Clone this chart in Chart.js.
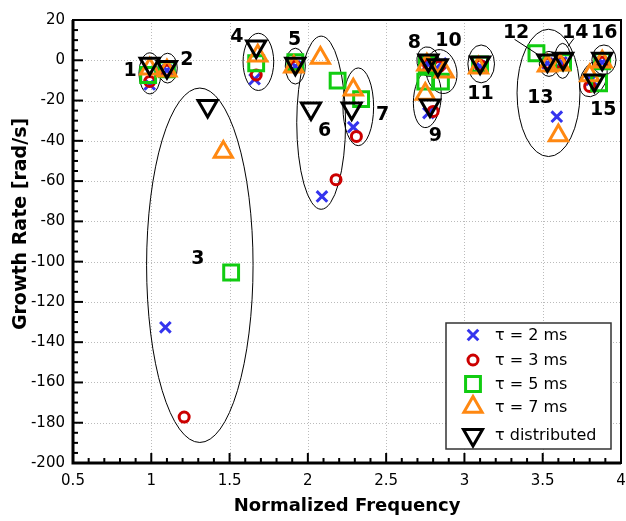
<!DOCTYPE html>
<html>
<head>
<meta charset="utf-8">
<script src="https://cdn.jsdelivr.net/npm/chart.js@4.4.1/dist/chart.umd.min.js"></script>
<style>
  html, body { margin: 0; padding: 0; background: #fff; }
  #wrap { width: 626px; height: 521px; }
</style>
</head>
<body>
<div id="wrap"><canvas id="growthChart" width="626" height="521"></canvas></div>
<script>
// ============================
// Data
// ============================
const xTicks = [0.5, 1, 1.5, 2, 2.5, 3, 3.5, 4];
const yTicks = [20, 0, -20, -40, -60, -80, -100, -120, -140, -160, -180, -200];

// tau = 2 ms (blue x)
const tau2X = [0.99, 1.10, 1.09, 1.66, 1.92, 2.09, 2.29, 2.77, 2.77, 2.85, 3.10, 3.53, 3.59, 3.62, 3.81, 3.88];
const tau2Y = [-12, -5, -132.6, -9.4, -3, -67.6, -33.2, -2, -26.2, -1.5, -3, -1.5, -28, -1, -9.7, -1];
// tau = 3 ms (red o)
const tau3X = [0.99, 1.10, 1.21, 1.67, 1.92, 2.18, 2.31, 2.77, 2.80, 2.84, 3.10, 3.53, 3.61, 3.80, 3.88];
const tau3Y = [-10.5, -5, -177.2, -7.3, -3, -59.3, -37.8, -2, -25.4, -3, -2.5, -1.5, -1, -13, -1];
// tau = 5 ms (green square)
const tau5X = [0.98, 1.10, 1.51, 1.67, 1.92, 2.19, 2.34, 2.76, 2.75, 2.85, 3.10, 3.46, 3.63, 3.86, 3.88];
const tau5Y = [-7.3, -4.5, -105.4, -1.5, -1, -10.1, -19.3, -2, -10.6, -10.6, -2, 3.5, -1, -11.4, -0.5];
// tau = 7 ms (orange triangle)
const tau7X = [0.99, 1.10, 1.46, 1.68, 1.91, 2.08, 2.29, 2.76, 2.75, 2.87, 3.09, 3.53, 3.60, 3.61, 3.80, 3.88];
const tau7Y = [-4.2, -5.2, -45.6, 2.3, -3.2, 1.1, -14.7, -2.2, -16.7, -5.7, -3.7, -2.7, -37.4, -2.2, -7.6, -0.7];
// tau distributed (black inverted triangle)
const distX = [0.99, 1.10, 1.36, 1.67, 1.92, 2.02, 2.28, 2.77, 2.78, 2.83, 3.10, 3.53, 3.63, 3.83, 3.88];
const distY = [-1.7, -3.4, -22.7, 6.9, -1.7, -24, -24, -0.1, -22.4, -2.5, -1.1, -0.1, 0.7, -10, 0.7];

// mode groups: ellipse (centre, half-axes in data units, tilt) and label position
const modeIds = ["1", "2", "3", "4", "5", "6", "7", "8", "9", "10", "11", "12", "13", "14", "15", "16"];
const ellCx  = [0.991, 1.104, 1.310, 1.684, 1.920, 2.085, 2.322, 2.769, 2.763, 2.853, 3.107, 3.540, 3.537, 3.627, 3.824, 3.891];
const ellCy  = [-6.5, -3.9, -101.8, -0.8, -2.9, -31, -23.1, -0.7, -19.1, -5.6, -1.8, -1.8, -16.2, -0.3, -9.2, 0.2];
const ellRx  = [0.070, 0.062, 0.340, 0.098, 0.064, 0.156, 0.098, 0.072, 0.088, 0.098, 0.085, 0.062, 0.201, 0.053, 0.080, 0.077];
const ellRy  = [10.2, 7.4, 88, 14.2, 8.9, 43, 19.3, 7.4, 14.4, 11, 9.4, 6.2, 31.6, 8.7, 9.4, 7.4];
const ellRot = [0, 0, 0, 0, 0, 0, 0, -10, 5, -10, 0, 0, 0, 0, 25, 0];
const labelX = [0.864, 1.227, 1.297, 1.546, 1.916, 2.107, 2.477, 2.681, 2.815, 2.898, 3.102, 3.330, 3.485, 3.708, 3.886, 3.893];
const labelY = [-5.6, 0.2, -98.9, 11.6, 10.1, -35, -27.1, 8.6, -37.5, 9.6, -16.7, 13.6, -19.0, 13.6, -24.6, 13.6];

const legendNames = ["\u03c4 = 2 ms", "\u03c4 = 3 ms", "\u03c4 = 5 ms", "\u03c4 = 7 ms", "\u03c4 distributed"];

const FONT = "'DejaVu Sans', 'Liberation Sans', sans-serif";
const toPts = (xs, ys) => xs.map((x, i) => ({ x, y: ys[i] }));

const styles = [
    { color: "#3434ee", pointStyle: "crossRot", radius: 7.5, rotation: 0, borderWidth: 3 },
    { color: "#cc0000", pointStyle: "circle", radius: 5, rotation: 0, borderWidth: 3 },
    { color: "#11cc11", pointStyle: "rect", radius: 10.5, rotation: 0, borderWidth: 3 },
    { color: "#ff8811", pointStyle: "triangle", radius: 10.5, rotation: 0, borderWidth: 3 },
    { color: "#000000", pointStyle: "triangle", radius: 11, rotation: 180, borderWidth: 3 }
];
const series = [toPts(tau2X, tau2Y), toPts(tau3X, tau3Y), toPts(tau5X, tau5Y), toPts(tau7X, tau7Y), toPts(distX, distY)];

// simple marker painter for the legend box
function drawMarker(ctx, st, x, y) {
    const r = st.radius;
    ctx.save();
    ctx.strokeStyle = st.color; ctx.lineWidth = st.borderWidth; ctx.lineJoin = "miter";
    ctx.beginPath();
    if (st.pointStyle === "crossRot") {
        const o = r * Math.SQRT1_2;
        ctx.moveTo(x - o, y - o); ctx.lineTo(x + o, y + o);
        ctx.moveTo(x + o, y - o); ctx.lineTo(x - o, y + o);
    } else if (st.pointStyle === "circle") {
        ctx.arc(x, y, r, 0, Math.PI * 2);
    } else if (st.pointStyle === "rect") {
        const s = r * Math.SQRT1_2;
        ctx.rect(x - s, y - s, 2 * s, 2 * s);
    } else {
        let a = st.rotation * Math.PI / 180;
        for (let k = 0; k < 3; k++) {
            const px = x + Math.sin(a) * r, py = y - Math.cos(a) * r;
            k === 0 ? ctx.moveTo(px, py) : ctx.lineTo(px, py);
            a += Math.PI * 2 / 3;
        }
        ctx.closePath();
    }
    ctx.stroke();
    ctx.restore();
}

const overlay = {
    id: "overlay",
    beforeDatasetsDraw(chart) {
        const { ctx, chartArea: a, scales: { x, y } } = chart;
        ctx.save();
        // dotted grid
        ctx.strokeStyle = "#bbbbbb"; ctx.lineWidth = 1; ctx.setLineDash([1, 2]);
        xTicks.forEach(v => { const px = Math.round(x.getPixelForValue(v)) + 0.5; ctx.beginPath(); ctx.moveTo(px, a.top); ctx.lineTo(px, a.bottom); ctx.stroke(); });
        yTicks.forEach(v => { const py = Math.round(y.getPixelForValue(v)) + 0.5; ctx.beginPath(); ctx.moveTo(a.left, py); ctx.lineTo(a.right, py); ctx.stroke(); });
        ctx.setLineDash([]);
        // group ellipses
        ctx.strokeStyle = "#000"; ctx.lineWidth = 1;
        modeIds.forEach((id, i) => {
            const cx = x.getPixelForValue(ellCx[i]), cy = y.getPixelForValue(ellCy[i]);
            const rx = Math.abs(x.getPixelForValue(ellCx[i] + ellRx[i]) - cx);
            const ry = Math.abs(y.getPixelForValue(ellCy[i] + ellRy[i]) - cy);
            ctx.beginPath();
            ctx.ellipse(cx, cy, rx, ry, ellRot[i] * Math.PI / 180, 0, Math.PI * 2);
            ctx.stroke();
        });
        ctx.restore();
    },
    afterDatasetsDraw(chart) {
        const { ctx, chartArea: a, scales: { x, y } } = chart;
        ctx.save();
        // leader lines for 12 and 14
        ctx.strokeStyle = "#000"; ctx.lineWidth = 1;
        ctx.beginPath();
        ctx.moveTo(x.getPixelForValue(3.32), y.getPixelForValue(10.4)); ctx.lineTo(x.getPixelForValue(3.49), y.getPixelForValue(1.8));
        ctx.moveTo(x.getPixelForValue(3.70), y.getPixelForValue(10.9)); ctx.lineTo(x.getPixelForValue(3.66), y.getPixelForValue(6.8));
        ctx.stroke();
        // mode numbers
        ctx.fillStyle = "#000"; ctx.font = `bold 19px ${FONT}`;
        ctx.textAlign = "center"; ctx.textBaseline = "middle";
        modeIds.forEach((id, i) => ctx.fillText(id, x.getPixelForValue(labelX[i]), y.getPixelForValue(labelY[i])));

        // frame
        ctx.lineWidth = 2;
        ctx.strokeRect(a.left, a.top, a.right - a.left, a.bottom - a.top);
        ctx.lineWidth = 3;
        ctx.beginPath();
        ctx.moveTo(a.left, a.top); ctx.lineTo(a.left, a.bottom); ctx.lineTo(a.right, a.bottom);
        ctx.stroke();

        // inward ticks: major and minor
        ctx.lineWidth = 2;
        for (let v = 0.5; v <= 4.0001; v += 0.1) {
            const major = Math.abs(v * 2 - Math.round(v * 2)) < 1e-6;
            const px = x.getPixelForValue(v);
            ctx.beginPath(); ctx.moveTo(px, a.bottom); ctx.lineTo(px, a.bottom - (major ? 10 : 5)); ctx.stroke();
        }
        for (let v = -200; v <= 20; v += 5) {
            const major = v % 20 === 0;
            const py = y.getPixelForValue(v);
            ctx.beginPath(); ctx.moveTo(a.left, py); ctx.lineTo(a.left + (major ? 10 : 5), py); ctx.stroke();
        }

        // axis titles
        ctx.font = `bold 18px ${FONT}`;
        ctx.fillText("Normalized Frequency", (a.left + a.right) / 2, a.bottom + 43);
        ctx.save();
        ctx.font = `bold 19px ${FONT}`;
        ctx.translate(21, 224); ctx.rotate(-Math.PI / 2);
        ctx.fillText("Growth Rate [rad/s]", 0, 0);
        ctx.restore();

        // legend box
        const bw = 165, bh = 126;
        const bx = a.right - 10 - bw, by = a.bottom - 14 - bh;
        ctx.fillStyle = "#fff"; ctx.fillRect(bx, by, bw, bh);
        ctx.strokeStyle = "#333"; ctx.lineWidth = 1.5; ctx.strokeRect(bx, by, bw, bh);
        const rowY = [12, 37, 61, 84, 112];
        ctx.font = `16px ${FONT}`; ctx.textAlign = "left"; ctx.fillStyle = "#000";
        legendNames.forEach((name, i) => {
            drawMarker(ctx, styles[i], bx + 27, by + rowY[i]);
            ctx.fillText(name, bx + 49, by + rowY[i] + 1);
        });
        ctx.restore();
    }
};

new Chart(document.getElementById("growthChart"), {
    type: "scatter",
    data: {
        datasets: series.map((pts, i) => ({
            label: legendNames[i],
            data: pts,
            order: 5 - i,
            pointStyle: styles[i].pointStyle,
            pointRadius: styles[i].radius,
            pointRotation: styles[i].rotation,
            pointBorderWidth: styles[i].borderWidth,
            pointBorderColor: styles[i].color,
            pointBackgroundColor: "rgba(0,0,0,0)",
            showLine: false
        }))
    },
    options: {
        responsive: false,
        animation: false,
        devicePixelRatio: 1,
        layout: { autoPadding: false, padding: { top: 20, right: 5, left: 0, bottom: 0 } },
        plugins: { legend: { display: false }, tooltip: { enabled: false } },
        scales: {
            x: {
                type: "linear", min: 0.5, max: 4,
                afterFit: s => { s.height = 58; s.paddingLeft = 0; s.paddingRight = 0; },
                grid: { display: false, drawTicks: false },
                border: { display: false },
                ticks: {
                    stepSize: 0.5, padding: 9, maxRotation: 0, color: "#000",
                    font: { family: FONT, size: 15 },
                    callback: v => String(+v.toFixed(1))
                }
            },
            y: {
                type: "linear", min: -200, max: 20,
                afterFit: s => { s.width = 73; s.paddingTop = 0; s.paddingBottom = 0; },
                grid: { display: false, drawTicks: false },
                border: { display: false },
                ticks: { stepSize: 20, padding: 8, color: "#000", font: { family: FONT, size: 15 } }
            }
        }
    },
    plugins: [overlay]
});
</script>
</body>
</html>
